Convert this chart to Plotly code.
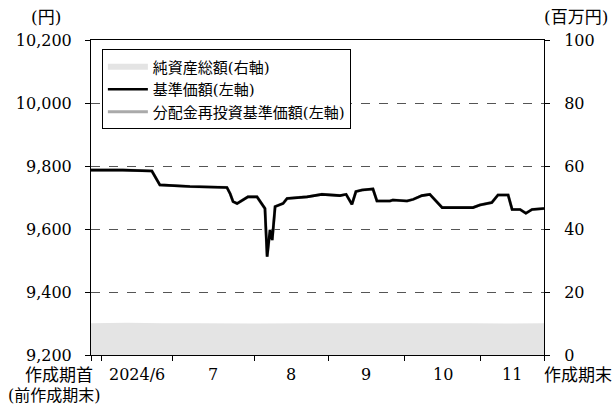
import plotly.graph_objects as go

# ---- data ----
# trading-day index of key points and base price (円, left axis)
price_x = [0, 8.8, 16.8, 19.0, 27.3, 37.5, 38.4, 39.2, 40.3, 41.1, 43.3, 45.8,
           48.0, 48.6, 49.4, 50.0, 50.8, 53.0, 54.1, 59.6, 63.7, 68.7, 70.4,
           72.0, 73.1, 74.8, 77.8, 78.9, 82.5, 83.3, 87.2, 88.9, 91.3, 93.5,
           96.9, 105.4, 107.3, 110.6, 112.3, 115.1, 116.2, 118.4, 120.0, 121.7, 125]
price_y = [9787, 9787, 9784, 9740, 9735, 9732, 9712, 9687, 9681, 9687, 9702, 9702,
           9665, 9512, 9597, 9565, 9671, 9681, 9697, 9702, 9710, 9706, 9710,
           9678, 9719, 9724, 9727, 9689, 9689, 9692, 9689, 9694, 9706, 9710,
           9668, 9668, 9676, 9684, 9708, 9708, 9662, 9662, 9650, 9662, 9665]

# net assets (百万円, right axis)
nav_x = [0, 10, 20, 30, 45, 60, 75, 90, 105, 115, 125]
nav_y = [10.1, 10.2, 10.1, 10.1, 10.0, 10.1, 10.1, 10.1, 10.1, 10.0, 10.1]

# month boundaries (trading-day index) and labels
bounds = [0, 3.0, 22.4, 45.0, 65.4, 86.4, 107.6, 125]
month_labels = ["2024/6", "7", "8", "9", "10", "11"]
start_label = "作成期首"
start_sub = "(前作成期末)"
end_label = "作成期末"

left_ticks = [9200, 9400, 9600, 9800, 10000, 10200]
right_ticks = [0, 20, 40, 60, 80, 100]

FONT = "DejaVu Serif, Noto Sans CJK JP, serif"
XMAX = bounds[-1]

fig = go.Figure()

fig.add_trace(go.Scatter(
    x=nav_x, y=nav_y, yaxis="y", mode="none", fill="tozeroy",
    fillcolor="#e4e4e4", name="純資産総額(右軸)", legendrank=1))
fig.add_trace(go.Scatter(
    x=price_x, y=price_y, yaxis="y2", mode="lines",
    line=dict(color="#aaaaaa", width=3), name="分配金再投資基準価額(左軸)", legendrank=3))
fig.add_trace(go.Scatter(
    x=price_x, y=price_y, yaxis="y2", mode="lines",
    line=dict(color="black", width=2.6), name="基準価額(左軸)", legendrank=2))

def ann(x, y, text, size=17):
    return dict(x=x, y=y, xref="paper", yref="paper", text=text, showarrow=False,
                xanchor="center", yanchor="middle", font=dict(size=size))

annotations = []
for i, lab in enumerate(month_labels):
    xm = (bounds[i + 1] + bounds[i + 2]) / 2
    annotations.append(ann(xm / XMAX, -0.063, lab, 16))
annotations.append(ann(-0.071, -0.063, start_label))
annotations.append(ann(-0.08, -0.13, start_sub, 16))
annotations.append(ann(1.075, -0.063, end_label))
annotations.append(ann(-0.1, 1.072, "(円)"))
annotations.append(ann(1.07, 1.072, "(百万円)"))

fig.update_layout(
    width=614, height=406,
    margin=dict(l=91, r=70, t=40, b=51),
    paper_bgcolor="white", plot_bgcolor="white",
    font=dict(family=FONT, size=16, color="black"),
    showlegend=True,
    legend=dict(x=0.024, y=0.97, xanchor="left", yanchor="top",
                bgcolor="white", bordercolor="black", borderwidth=1,
                font=dict(size=15), tracegroupgap=0, itemwidth=40),
    xaxis=dict(range=[0, XMAX], tickvals=bounds, showticklabels=False,
               ticks="outside", ticklen=5, tickcolor="black",
               showline=True, linecolor="black", linewidth=1, mirror=True,
               showgrid=False, zeroline=False),
    yaxis=dict(range=[0, 100], side="right", tickvals=right_ticks,
               ticks="outside", ticklen=5, tickcolor="black",
               showline=True, linecolor="black", linewidth=1,
               showgrid=False, zeroline=False, ticklabelstandoff=11),
    yaxis2=dict(range=[9200, 10200], overlaying="y", side="left",
                tickvals=left_ticks, tickformat=",d",
                ticks="outside", ticklen=5, tickcolor="black",
                showline=True, linecolor="black", linewidth=1,
                showgrid=True, gridcolor="#555555", gridwidth=1, griddash="dash",
                zeroline=False, ticklabelstandoff=10),
    annotations=annotations,
)

fig.write_html("out.html", config={"displayModeBar": False},
               post_script="document.body.style.margin='0';")
